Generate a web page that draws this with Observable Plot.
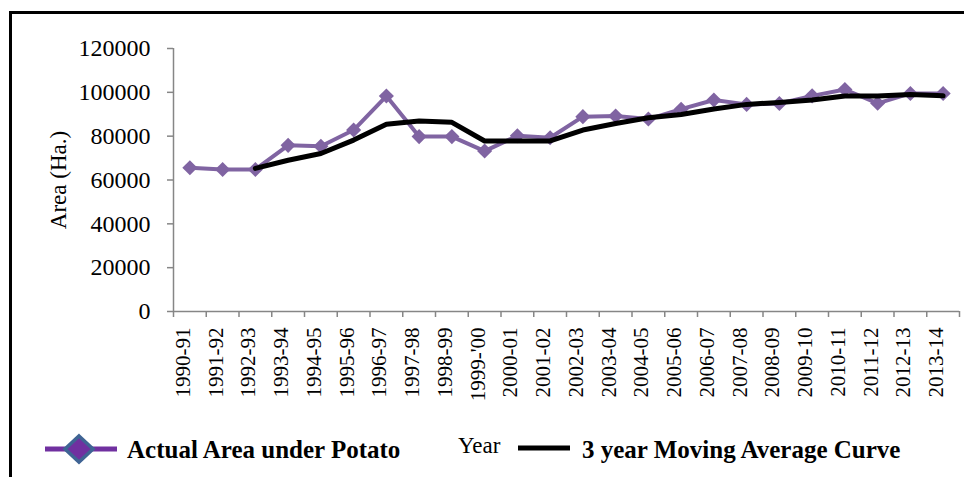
<!DOCTYPE html>
<html><head><meta charset="utf-8">
<script src="https://cdn.jsdelivr.net/npm/d3@7"></script>
<script src="https://cdn.jsdelivr.net/npm/@observablehq/plot@0.6"></script>
<style>
html,body{margin:0;padding:0;background:#fff;}
#wrap{position:relative;width:964px;height:477px;overflow:hidden;font-family:"Liberation Serif","Times New Roman",serif;background:#fff;}
#frame{position:absolute;left:9px;top:11px;right:-10px;bottom:-10px;border-left:3px solid #000;border-top:3px solid #000;pointer-events:none;}
#chart svg,#legend{display:block;}
#chart svg text{font-family:"Liberation Serif",serif;}
</style></head><body>
<div id="wrap"><div id="chart"></div><svg id="legend" width="964" height="52"></svg><div id="frame"></div></div>
<script>
const years = ["1990-91","1991-92","1992-93","1993-94","1994-95","1995-96","1996-97","1997-98","1998-99","1999-'00","2000-01","2001-02","2002-03","2003-04","2004-05","2005-06","2006-07","2007-08","2008-09","2009-10","2010-11","2011-12","2012-13","2013-14"];
const actualArea = [65600, 64800, 64800, 75800, 75400, 82800, 98300, 79800, 79800, 73200, 80200, 79300, 88900, 89200, 87800, 92300, 96500, 94500, 94900, 98400, 101300, 95000, 99500, 99500];
const movingAverage = [null, null, 65300, 69000, 72100, 78200, 85400, 86900, 86300, 77800, 77800, 77800, 82800, 85800, 88400, 89900, 92400, 94500, 95400, 96500, 98300, 98300, 99000, 98400];
const yTicks = [0, 20000, 40000, 60000, 80000, 100000, 120000];
const yLabel = "Area (Ha.)";
const xLabel = "Year";
const seriesNames = ["Actual Area under Potato", "3 year Moving Average Curve"];

const actualData = years.map((y, i) => ({i, year: y, v: actualArea[i]}));
const maData = years.map((y, i) => ({i, v: movingAverage[i]})).filter(d => d.v != null);
const gray = "#868686";
const serif = "Liberation Serif";

const chart = Plot.plot({
  width: 964, height: 425,
  marginLeft: 173, marginRight: 5, marginTop: 48, marginBottom: 114,
  style: {fontFamily: serif, fontSize: "22px", color: "#000", background: "transparent", overflow: "visible"},
  x: {domain: [0, years.length], axis: null},
  y: {domain: [0, 120000], axis: null},
  marks: [
    Plot.ruleX([0], {stroke: gray, strokeWidth: 1.5}),
    Plot.ruleY([0], {stroke: gray, strokeWidth: 1.5}),
    Plot.axisY({ticks: yTicks, tickSize: 6, tickFormat: () => "", stroke: gray, strokeWidth: 1.5, label: null}),
    Plot.text(yTicks, {y: d => d, text: d => String(d), frameAnchor: "left", dx: -23, textAnchor: "end", fontSize: 24, fontFamily: serif, fill: "#000"}),
    Plot.axisX({ticks: d3.range(years.length + 1), tickSize: 6, tickFormat: () => "", stroke: gray, strokeWidth: 1.5, label: null}),
    Plot.text(actualData, {x: d => d.i + 0.5, text: "year", frameAnchor: "bottom", rotate: -90, textAnchor: "end", dy: 16, fontSize: 21, fontFamily: serif, fill: "#000"}),
    Plot.text([yLabel], {frameAnchor: "left", dx: -115, rotate: -90, textAnchor: "middle", fontSize: 23, fontFamily: serif, fill: "#000"}),
    Plot.line(actualData, {x: d => d.i + 0.5, y: "v", stroke: "#8064A2", strokeWidth: 4}),
    Plot.dot(actualData, {x: d => d.i + 0.5, y: "v", symbol: "diamond2", r: 6.8, fill: "#8064A2", stroke: "none"}),
    Plot.line(maData, {x: d => d.i + 0.5, y: "v", stroke: "#000", strokeWidth: 5, strokeLinecap: "round", strokeLinejoin: "round"})
  ]
});
document.getElementById("chart").appendChild(chart);

const lg = d3.select("#legend");
lg.append("line").attr("x1", 45).attr("x2", 117).attr("y1", 24).attr("y2", 24).attr("stroke", "#7030A0").attr("stroke-width", 5);
lg.append("polygon").attr("points", "79,11 93,24 79,37 65,24").attr("fill", "#7030A0").attr("stroke", "#3F6494").attr("stroke-width", 3.5);
lg.append("text").attr("x", 127).attr("y", 33).attr("font-weight", "bold").attr("font-size", 25).attr("font-family", "'Liberation Serif', serif").text(seriesNames[0]);
lg.append("text").attr("x", 458).attr("y", 27.5).attr("font-size", 23).attr("font-family", "'Liberation Serif', serif").text(xLabel);
lg.append("line").attr("x1", 518).attr("x2", 570).attr("y1", 23).attr("y2", 23).attr("stroke", "#000").attr("stroke-width", 5);
lg.append("text").attr("x", 582).attr("y", 33).attr("font-weight", "bold").attr("font-size", 25).attr("font-family", "'Liberation Serif', serif").text(seriesNames[1]);
</script>
</body></html>
